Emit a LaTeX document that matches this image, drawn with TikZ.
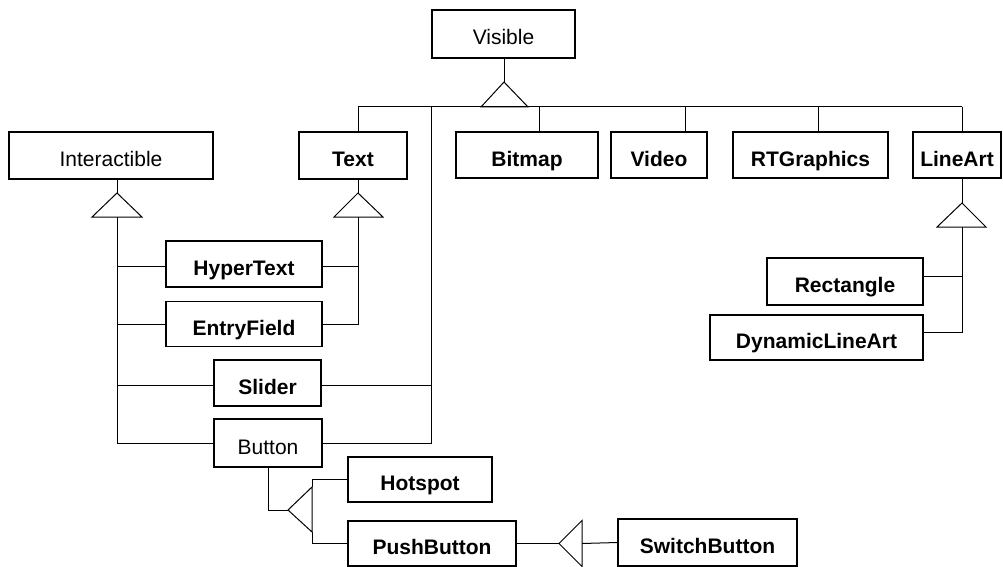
\documentclass[tikz,border=0pt]{standalone}
\usepackage{fontspec}
\setmainfont{Liberation Sans}
\begin{document}
\begin{tikzpicture}[x=1pt,y=-1pt, line width=1pt,
  cls/.style={draw, line width=1.2pt, inner sep=0pt, text height=22pt, text depth=0pt, font=\fontsize{21}{24}\selectfont\bfseries},
  clsr/.style={cls, font=\fontsize{21}{24}\selectfont\mdseries}]
\useasboundingbox (0,0) rectangle (1003,567);
% classes
\node[clsr, minimum width=143pt, minimum height=48pt] (visible) at (503.5,34) {Visible};
\node[clsr, minimum width=204pt, minimum height=47pt] (interactible) at (111,155.5) {Interactible};
\node[cls, minimum width=108pt, minimum height=47pt] (text) at (353,155.5) {Text};
\node[cls, minimum width=142pt, minimum height=46pt] (bitmap) at (527,155) {Bitmap};
\node[cls, minimum width=96pt, minimum height=46pt] (video) at (659,155) {Video};
\node[cls, minimum width=155pt, minimum height=46pt] (rtgraphics) at (810.5,155) {RTGraphics};
\node[cls, minimum width=88pt, minimum height=46pt] (lineart) at (957,155) {LineArt};
\node[cls, minimum width=156pt, minimum height=46pt] (hypertext) at (244,264) {HyperText};
\node[cls, minimum width=156pt, minimum height=45pt] (entryfield) at (244,324) {EntryField};
\node[cls, minimum width=107pt, minimum height=46pt] (slider) at (267.5,383) {Slider};
\node[clsr, minimum width=108pt, minimum height=48pt] (button) at (268,443) {Button};
\node[cls, minimum width=144pt, minimum height=45pt] (hotspot) at (420,479.5) {Hotspot};
\node[cls, minimum width=168pt, minimum height=45pt] (pushbutton) at (432,543.5) {PushButton};
\node[cls, minimum width=179pt, minimum height=47pt] (switchbutton) at (707.5,542.5) {SwitchButton};
\node[cls, minimum width=156pt, minimum height=47pt] (rectangle) at (845,281.5) {Rectangle};
\node[cls, minimum width=213pt, minimum height=45pt] (dynamic) at (816.5,337.5) {DynamicLineArt};
% Visible hierarchy
\coordinate (vA) at (504,82);
\coordinate (vL) at (481,107);
\coordinate (vR) at (528,107);
\coordinate (busL) at (358,107);
\coordinate (busR) at (962,107);
\coordinate (bB) at (539,107);
\coordinate (bVi) at (685,107);
\coordinate (bR) at (818,107);
\coordinate (bV) at (431,107);
\draw (vA |- visible.south) -- (vA);
\draw (vA) -- (vL) -- (vR) -- cycle;
\draw (busL) -- (busR);
\draw (busL) -- (busL |- text.north);
\draw (bB) -- (bB |- bitmap.north);
\draw (bVi) -- (bVi |- video.north);
\draw (bR) -- (bR |- rtgraphics.north);
\draw (busR) -- (busR |- lineart.north);
\coordinate (sl) at (0,385);
\draw (bV) -- (bV |- button.east) -- (button.east);
\draw (slider.east |- sl) -- (bV |- sl);
% Interactible hierarchy
\coordinate (iA) at (117,193);
\coordinate (iL) at (92,217);
\coordinate (iR) at (142,217);
\coordinate (hy) at (0,266);
\draw (iA |- interactible.south) -- (iA);
\draw (iA) -- (iL) -- (iR) -- cycle;
\draw (iA |- iL) -- (iA |- button.west) -- (button.west);
\draw (iA |- hy) -- (hypertext.west |- hy);
\draw (iA |- entryfield.west) -- (entryfield.west);
\draw (iA |- sl) -- (slider.west |- sl);
% Text hierarchy
\coordinate (tA) at (358,193);
\coordinate (tL) at (334,217);
\coordinate (tR) at (383,217);
\draw (tA |- text.south) -- (tA);
\draw (tA) -- (tL) -- (tR) -- cycle;
\draw (tA |- tL) -- (tA |- entryfield.east) -- (entryfield.east);
\draw (hypertext.east |- hy) -- (tA |- hy);
% LineArt hierarchy
\coordinate (lA) at (962,203);
\coordinate (lL) at (937,227);
\coordinate (lR) at (986,227);
\coordinate (la1) at (962,276);
\coordinate (la2) at (962,332);
\draw (lA |- lineart.south) -- (lA);
\draw (lA) -- (lL) -- (lR) -- cycle;
\draw (lA |- lL) -- (la2) -- (dynamic.east |- la2);
\draw (rectangle.east |- la1) -- (la1);
% Button hierarchy
\coordinate (bA) at (288,510);
\coordinate (bT) at (312,487);
\coordinate (bBt) at (312,532);
\draw (button.south) -- (button.south |- bA) -- (bA);
\draw (bA) -- (bT) -- (bBt) -- cycle;
\draw (hotspot.west) -| (bT);
\draw (pushbutton.west) -| (bBt);
% PushButton hierarchy
\coordinate (pA) at (559,543.5);
\coordinate (pT) at (582,520.5);
\coordinate (pB) at (582,566.5);
\draw (pushbutton.east) -- (pA);
\draw (pA) -- (pT) -- (pB) -- cycle;
\draw (pA -| pT) -- (switchbutton.west);
\end{tikzpicture}
\end{document}
